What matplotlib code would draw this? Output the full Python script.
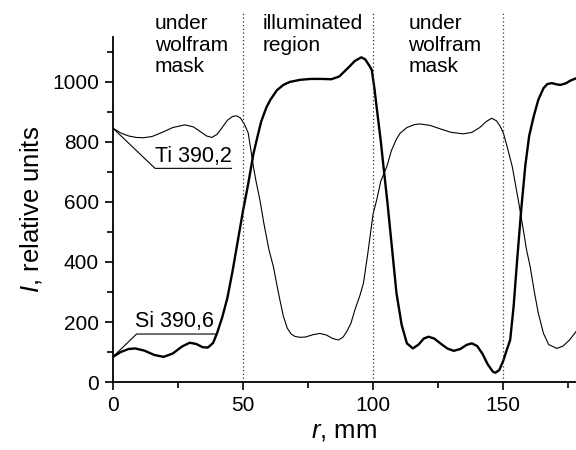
import matplotlib
matplotlib.use("Agg")
import matplotlib.pyplot as plt
from matplotlib.ticker import MultipleLocator

plt.rcParams['font.family'] = ['Liberation Sans', 'DejaVu Sans']
plt.rcParams['mathtext.fontset'] = 'custom'
plt.rcParams['mathtext.it'] = 'Liberation Sans:italic'
plt.rcParams['mathtext.rm'] = 'Liberation Sans'

# Si 390,6 (thick line)
si_r = [0, 3, 6, 8.5, 12, 16, 19.5, 23, 26.5, 29.5, 32, 34.5, 36.5, 38.5, 40,
        42, 44, 46, 48, 50, 52, 54, 55.5, 57, 59, 60.5, 63, 65.5, 68, 72, 76,
        80, 84, 87, 89, 91, 93, 95.5, 97, 98.5, 99.5, 100.5, 101.5, 103, 104,
        105.5, 107, 109, 111, 113, 115.3, 117.5, 119.5, 121.3, 123.5, 126,
        128.5, 131, 133.5, 136, 138, 140, 142, 144, 146, 147, 148.5, 150,
        151.5, 152.7, 154, 155.5, 157, 158.5, 160, 161.7, 163.5, 165.5, 167,
        168.7, 170.5, 172, 174, 176, 178]
si_i = [84, 100, 110, 112, 105, 90, 84, 95, 118, 131, 127, 116, 115, 130, 162,
        215, 280, 370, 470, 570, 660, 760, 815, 868, 915, 940, 972, 990, 1000,
        1007, 1010, 1010, 1009, 1018, 1035, 1052, 1070, 1082, 1075, 1055, 1040,
        980, 907, 800, 718, 600, 470, 296, 190, 129, 112, 125, 145, 151, 145,
        128, 112, 104, 110, 124, 129, 120, 95, 60, 35, 31, 40, 70, 110, 140,
        250, 420, 580, 720, 820, 884, 940, 979, 993, 996, 992, 990, 995, 1005,
        1012]

# Ti 390,2 (thin line)
ti_r = [0, 3, 6, 9, 11.7, 15, 19, 23, 27.7, 31, 34, 36, 38, 40, 42, 44, 46,
        47.6, 49, 50.5, 52, 53, 54, 55, 56.5, 58, 60, 61.7, 63, 64.2, 65.5,
        67, 68.5, 70, 72, 74, 77, 79.6, 82, 84.5, 86.7, 88.5, 90, 91.5, 93,
        95, 96.3, 98, 100, 101.4, 103, 105.3, 107, 109, 110.4, 113, 116, 118,
        122, 126, 130, 134.7, 138, 141, 143.5, 145.6, 147.5, 149, 150.1,
        151.5, 153.5, 155.8, 157.5, 159, 160.4, 162, 163.5, 165.5, 167.5,
        170.6, 173, 175.5, 178]
ti_i = [846, 830, 820, 815, 814, 818, 832, 848, 857, 850, 832, 820, 815, 825,
        848, 872, 885, 887, 880, 860, 830, 775, 718, 670, 607, 530, 440, 384,
        325, 273, 220, 180, 160, 152, 149, 150, 158, 162, 157, 145, 140, 150,
        170, 196, 240, 290, 329, 430, 560, 607, 670, 718, 770, 810, 829, 848,
        858, 860, 855, 843, 832, 827, 832, 848, 868, 879, 870, 850, 829, 785,
        718, 607, 520, 440, 384, 300, 230, 162, 125, 112, 120, 140, 168]

boundaries = [50, 100, 150]
regions = ["under\nwolfram\nmask", "illuminated\nregion", "under\nwolfram\nmask"]
region_x = [16.2, 57.6, 113.6]

fig = plt.figure(figsize=(5.76, 4.5), dpi=100)
ax = fig.add_axes([0.196, 0.151, 0.804, 0.767])

ax.plot(ti_r, ti_i, color='black', lw=0.8)
ax.plot(si_r, si_i, color='black', lw=1.7)

ylim_top = 1150
for b in boundaries:
    ax.axvline(b, ymin=0, ymax=1233 / ylim_top, color='#333333', lw=0.9,
               linestyle=(0, (1, 2)), clip_on=False)

for txt, x in zip(regions, region_x):
    ax.text(x, 1225, txt, fontsize=15, va='top', ha='left', linespacing=1.15,
            clip_on=False)

# labels with leader lines
ax.plot([0, 16.2, 45.6], [846, 712, 712], color='black', lw=0.8)
ax.text(16.3, 718, "Ti 390,2", fontsize=15.5, ha='left', va='bottom')
ax.plot([0, 9.1, 39.4], [84, 160, 160], color='black', lw=0.8)
ax.text(8.6, 166, "Si 390,6", fontsize=15.5, ha='left', va='bottom')

ax.set_xlim(0, 178)
ax.set_ylim(0, ylim_top)
ax.xaxis.set_major_locator(MultipleLocator(50))
ax.xaxis.set_minor_locator(MultipleLocator(25))
ax.yaxis.set_major_locator(MultipleLocator(200))
ax.yaxis.set_minor_locator(MultipleLocator(100))
ax.tick_params(which='major', direction='out', length=6, width=1.2,
               labelsize=15, pad=4)
ax.tick_params(which='minor', direction='out', length=4, width=1.2)

ax.spines['top'].set_visible(False)
ax.spines['right'].set_visible(False)
ax.spines['left'].set_linewidth(1.3)
ax.spines['bottom'].set_linewidth(1.3)

ax.set_xlabel(r"$\mathit{r}$, mm", fontsize=18.5, labelpad=3)
ax.set_ylabel(r"$\mathit{I}$, relative units", fontsize=18.5, labelpad=6)

fig.savefig("out.png", dpi=100)
